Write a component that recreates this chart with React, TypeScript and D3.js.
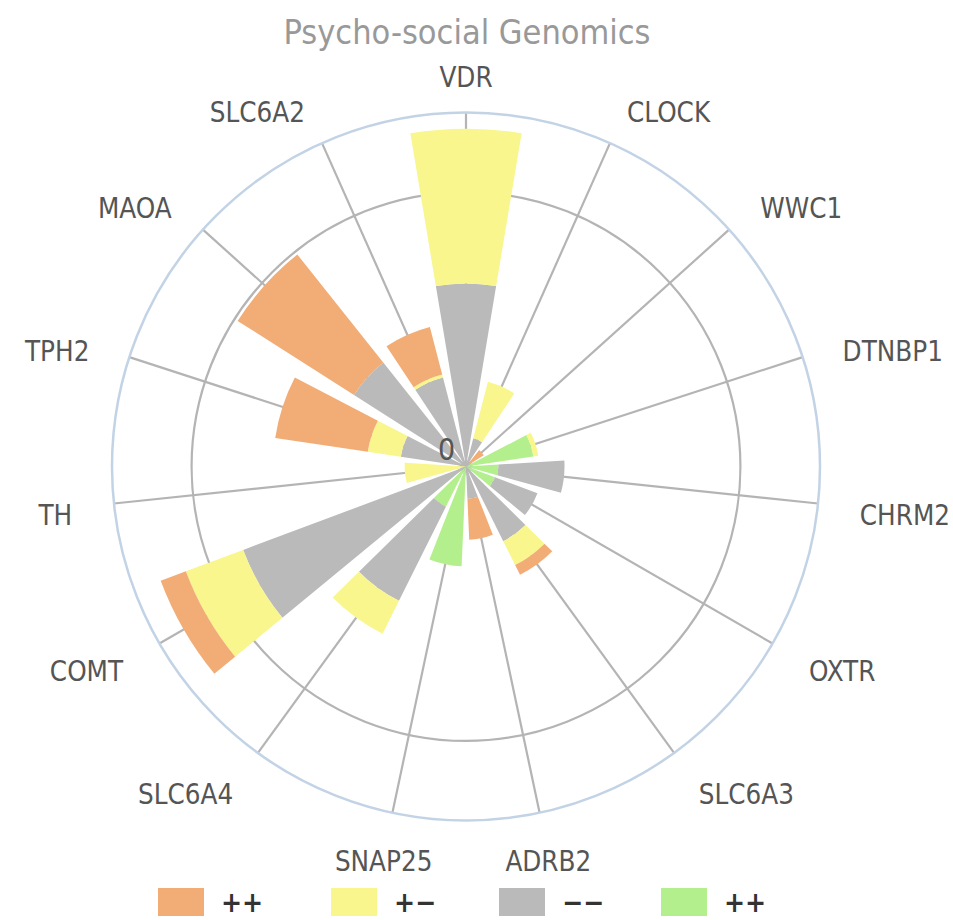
import React, { useEffect, useRef } from 'react';
import * as d3 from 'd3';

// genes around the rose, clockwise from the top
const categories = [
  'VDR', 'CLOCK', 'WWC1', 'DTNBP1', 'CHRM2', 'OXTR', 'SLC6A3', 'ADRB2',
  'SNAP25', 'SLC6A4', 'COMT', 'TH', 'TPH2', 'MAOA', 'SLC6A2',
];

// stacked series, values
const orangeValues = [0, 0, 0.57, 0, 0, 0, 0.4, 1.49, 0, 0, 0.98, 0, 3.41, 5.03, 1.79];
const yellowValues = [5.64, 2.13, 0, 0.18, 0, 0, 0.97, 0, 0, 1.34, 2.23, 2.24, 1.22, 0, 0.11];
const grayValues = [6.67, 1.06, 0.2, 0, 2.41, 1.65, 3.04, 1.18, 0, 3.83, 8.67, 0, 2.4, 4.84, 3.35];
const greenValues = [0, 0, 0, 2.48, 1.18, 1.13, 0, 0, 3.64, 1.64, 0, 0, 0, 0, 0];

const seriesKeys = ['orange', 'yellow', 'gray', 'green'];
const seriesNames = ['++', '+\u2212', '\u2212\u2212', '++'];
const seriesColors = ['#f2ad76', '#f8f68c', '#bababa', '#b4ef8d'];

const radialTicks = [0, 10];
const radialMax = 12.9;
const chartTitle = 'Psycho-social Genomics';

const FONT = "'DejaVu Sans Condensed', 'DejaVu Sans', sans-serif";

const PolarChart = () => {
  const svgRef = useRef<SVGSVGElement>(null);

  useEffect(() => {
    const svg = d3.select(svgRef.current);
    svg.selectAll('*').remove();

    const cx = 466;
    const cy = 466.5;
    const outerR = 354;

    const step = (2 * Math.PI) / categories.length;
    const angle = d3.scaleBand<string>()
      .domain(categories)
      .range([-step / 2, 2 * Math.PI - step / 2])
      .paddingInner(0.21)
      .paddingOuter(0.105);
    const mid = (c: string) => angle(c)! + angle.bandwidth() / 2;

    const r = d3.scaleLinear().domain([0, radialMax]).range([0, outerR]);

    const rows = categories.map((c, i) => ({
      category: c,
      orange: orangeValues[i],
      yellow: yellowValues[i],
      gray: grayValues[i],
      green: greenValues[i],
    }));

    // innermost series first so that the first legend item sits outside
    const stack = d3.stack<any>().keys([...seriesKeys].reverse());
    const layers = stack(rows);

    const g = svg.append('g').attr('transform', `translate(${cx},${cy})`);

    // grid
    g.selectAll('line.spoke')
      .data(categories)
      .join('line')
      .attr('class', 'spoke')
      .attr('x1', 0)
      .attr('y1', 0)
      .attr('x2', d => outerR * Math.sin(mid(d)))
      .attr('y2', d => -outerR * Math.cos(mid(d)))
      .attr('stroke', '#b4b4b4')
      .attr('stroke-width', 2.2);

    g.selectAll('circle.grid')
      .data(radialTicks.filter(t => t > 0))
      .join('circle')
      .attr('class', 'grid')
      .attr('r', d => r(d))
      .attr('fill', 'none')
      .attr('stroke', '#b4b4b4')
      .attr('stroke-width', 2.2);

    g.append('circle')
      .attr('r', outerR)
      .attr('fill', 'none')
      .attr('stroke', '#c3d3e6')
      .attr('stroke-width', 2.5);

    // bars
    const arc = d3.arc<any>()
      .innerRadius(d => r(d[0]))
      .outerRadius(d => r(d[1]))
      .startAngle(d => angle(d.data.category)!)
      .endAngle(d => angle(d.data.category)! + angle.bandwidth());

    layers.forEach(layer => {
      const color = seriesColors[seriesKeys.indexOf(layer.key)];
      g.append('g')
        .selectAll('path')
        .data(layer.filter(d => d[1] > d[0]))
        .join('path')
        .attr('d', arc)
        .attr('fill', color);
    });

    // category labels
    const labelR = outerR + 42;
    g.selectAll('text.cat')
      .data(categories)
      .join('text')
      .attr('class', 'cat')
      .attr('x', d => labelR * Math.sin(mid(d)))
      .attr('y', d => -labelR * Math.cos(mid(d)) + 7)
      .attr('dy', '0.36em')
      .attr('text-anchor', d => {
        const s = Math.sin(mid(d));
        if (Math.abs(s) < 0.25) return 'middle';
        return s > 0 ? 'start' : 'end';
      })
      .style('font-family', FONT)
      .style('font-size', '27.5px')
      .attr('fill', '#555555')
      .text(d => d);

    // radial tick label
    g.append('text')
      .attr('x', -19.5)
      .attr('y', -17.5)
      .attr('dy', '0.36em')
      .attr('text-anchor', 'middle')
      .style('font-family', FONT)
      .style('font-size', '30px')
      .attr('fill', '#555555')
      .text(String(radialTicks[0]));

    // title
    svg.append('text')
      .attr('x', 467)
      .attr('y', 32)
      .attr('dy', '0.36em')
      .attr('text-anchor', 'middle')
      .style('font-family', FONT)
      .style('font-size', '34px')
      .attr('fill', '#999999')
      .text(chartTitle);

    // legend
    const legendX = [158, 331, 499, 661];
    const legend = svg.append('g')
      .selectAll('g')
      .data(seriesNames)
      .join('g')
      .attr('transform', (d, i) => `translate(${legendX[i]},888)`);

    legend.append('rect')
      .attr('width', 46)
      .attr('height', 28)
      .attr('fill', (d, i) => seriesColors[i]);

    legend.append('text')
      .attr('x', 63)
      .attr('y', 14)
      .attr('dy', '0.36em')
      .style('font-family', FONT)
      .style('font-size', '28px')
      .style('font-weight', 'bold')
      .attr('fill', '#333333')
      .text(d => d);
  }, []);

  return <svg ref={svgRef} width={953} height={920} style={{ display: 'block' }} />;
};

export default function App() {
  return (
    <div style={{ position: 'absolute', left: 0, top: 0, background: '#fff' }}>
      <PolarChart />
    </div>
  );
}
